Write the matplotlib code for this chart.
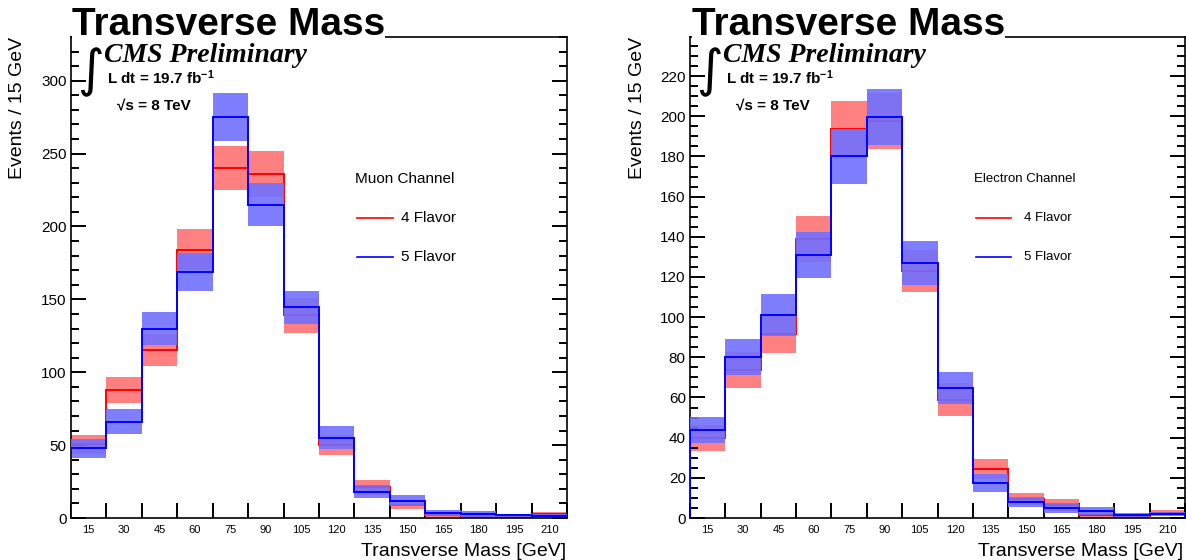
import matplotlib
matplotlib.use('Agg')
import matplotlib.pyplot as plt
from matplotlib.ticker import MultipleLocator

plt.rcParams['font.family'] = ['Liberation Sans', 'DejaVu Sans']
plt.rcParams['mathtext.fontset'] = 'custom'
plt.rcParams['mathtext.rm'] = 'Liberation Sans'
plt.rcParams['mathtext.bf'] = 'Liberation Sans:bold'
plt.rcParams['mathtext.it'] = 'Liberation Sans:italic'

# bin centres [GeV], 15 GeV wide
mass_bins = [15, 30, 45, 60, 75, 90, 105, 120, 135, 150, 165, 180, 195, 210]

# muon channel
muon_4f = [50.7, 88, 115, 184, 240, 236, 139, 50, 21, 9, 2, 1.5, 1, 2.5]
muon_4f_err = [6.5, 9, 11, 14, 15, 16, 12, 7, 5, 3, 1.5, 1.5, 1, 1.5]
muon_5f = [47.7, 66, 130, 168.5, 275, 215, 144.5, 55, 18, 12, 3.5, 3, 2, 1.5]
muon_5f_err = [6.8, 8.5, 11, 13, 16.5, 15, 11.5, 8, 4.5, 4, 2, 2, 1, 1]

# electron channel
ele_4f = [40, 73.7, 91.6, 139, 193.5, 197.5, 123, 59, 24.5, 9.5, 6.5, 1.5, 1, 2.5]
ele_4f_err = [6.5, 9, 9.5, 11.5, 14, 14, 10.5, 8, 5, 3, 3, 1.5, 1, 1.5]
ele_5f = [44, 80, 101, 131, 180, 199.5, 127, 64.7, 17.5, 8, 5, 3.5, 1.5, 2]
ele_5f_err = [6.5, 9, 10.5, 11.5, 13.5, 14, 11, 8, 4.5, 2.5, 2.5, 2, 1, 1]

W, H = 1186, 560
fig = plt.figure(figsize=(W / 100, H / 100), dpi=100)
ax1 = fig.add_axes([71 / W, 42 / H, 496 / W, 481 / H])
ax2 = fig.add_axes([690 / W, 42 / H, 495 / W, 481 / H])


def draw_panel(ax, v4, e4, v5, e5, ymax, major, minor, channel, leg_size, leg_txt_x):
    edges = [m - 7.5 for m in mass_bins] + [mass_bins[-1] + 7.5]
    # 4 flavor: band + outline
    ax.bar(mass_bins, [2 * e for e in e4], bottom=[v - e for v, e in zip(v4, e4)],
           width=15, color='#ff8080', lw=0, zorder=1)
    ax.stairs(v4, edges, baseline=0, color='red', lw=1.4, zorder=2)
    # 5 flavor drawn on top
    ax.bar(mass_bins, [2 * e for e in e5], bottom=[v - e for v, e in zip(v5, e5)],
           width=15, color='#7070ff', alpha=0.9, lw=0, zorder=3)
    ax.stairs(v5, edges, baseline=0, color='blue', lw=1.4, zorder=4)

    ax.set_xlim(edges[0], edges[-1])
    ax.set_ylim(0, ymax)
    ax.set_xticks(edges, labels=[''] * len(edges))
    ax.set_xticks(mass_bins, labels=[str(m) for m in mass_bins], minor=True)
    ax.tick_params(axis='x', which='major', direction='in', length=11, width=1.4, top=False)
    ax.tick_params(axis='x', which='minor', length=0, labelsize=8, pad=5)
    ax.yaxis.set_major_locator(MultipleLocator(major))
    ax.yaxis.set_minor_locator(MultipleLocator(minor))
    ax.tick_params(axis='y', which='both', direction='in', right=True, width=1.4, labelsize=11, pad=3)
    ax.tick_params(axis='y', which='major', length=11)
    ax.tick_params(axis='y', which='minor', length=5.5)
    for s in ax.spines.values():
        s.set_linewidth(1.2)

    # CMS labels
    ax.text(0.040, 0.927, '\u222b', family='DejaVu Sans', fontsize=37,
            ha='center', va='center', transform=ax.transAxes)
    ax.text(0.066, 0.948, 'CMS Preliminary', family='Liberation Serif', weight='bold',
            style='italic', fontsize=20, va='baseline', transform=ax.transAxes)
    ax.text(0.072, 0.902, r'L dt = 19.7 fb$^{\mathbf{-1}}$', weight='bold', fontsize=11,
            va='baseline', transform=ax.transAxes)
    ax.text(0.092, 0.850, '\u221as = 8 TeV', weight='bold', fontsize=11,
            va='baseline', transform=ax.transAxes)

    # legend
    ax.text(0.573, 0.705, channel, fontsize=leg_size, va='center', transform=ax.transAxes)
    ax.plot([0.577, 0.649], [0.624, 0.624], color='red', lw=1.2, transform=ax.transAxes)
    ax.plot([0.577, 0.649], [0.543, 0.543], color='blue', lw=1.2, transform=ax.transAxes)
    ax.text(leg_txt_x, 0.624, '4 Flavor', fontsize=leg_size, va='center', transform=ax.transAxes)
    ax.text(leg_txt_x, 0.543, '5 Flavor', fontsize=leg_size, va='center', transform=ax.transAxes)


draw_panel(ax1, muon_4f, muon_4f_err, muon_5f, muon_5f_err, 330, 50, 10, 'Muon Channel', 11, 0.665)
draw_panel(ax2, ele_4f, ele_4f_err, ele_5f, ele_5f_err, 239.5, 20, 5, 'Electron Channel', 9.5, 0.675)

for x0, x1, xc in [(72, 566, 18), (692, 1183, 638)]:
    fig.text(x0 / W, 1 - 35 / H, 'Transverse Mass', fontsize=28, weight='bold', va='baseline',
             bbox=dict(fc='white', ec='none', pad=0))
    fig.text(xc / W, 1 - 37 / H, 'Events / 15 GeV', fontsize=14, rotation=90,
             ha='center', va='top')
    fig.text(x1 / W, 4 / H, 'Transverse Mass [GeV]', fontsize=14, ha='right', va='baseline')

fig.savefig('out.png', dpi=100)
